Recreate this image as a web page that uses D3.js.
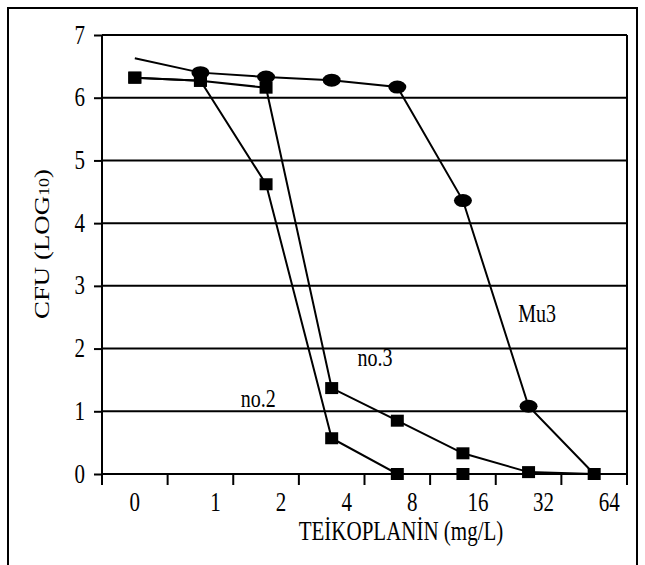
<!DOCTYPE html>
<html><head><meta charset="utf-8">
<script src="https://cdn.jsdelivr.net/npm/d3@7"></script>
<style>
body{margin:0;background:#fff}
svg{display:block}
text{font-family:"Liberation Serif","Times New Roman",serif;fill:#000}
</style>
</head><body>
<svg id="c" width="645" height="565"></svg>
<script>
// ---- data ----
const categories = ["0","1","2","4","8","16","32","64"];
const yTicks = [0,1,2,3,4,5,6,7];
const no2 = [6.32, 6.27, 4.62, 0.57, 0, 0, null, null];
const no3 = [6.32, 6.27, 6.16, 1.37, 0.85, 0.33, 0.03, 0];
const mu3 = [6.63, 6.40, 6.33, 6.28, 6.17, 4.36, 1.08, 0];
const annotations = [
  {text:"Mu3", idx:6.63, value:2.57},
  {text:"no.3", idx:4.16, value:1.87},
  {text:"no.2", idx:2.38, value:1.21}
];

// ---- layout ----
const svg = d3.select("#c");
const L = 102, R = 627, T = 35, B = 474;
const SY = 1.28; // vertical stretch of the lettering
const x = d3.scaleBand().domain(categories).range([L, R]);
const xi = d3.scaleLinear().domain([0, categories.length]).range([L, R]);
const y = d3.scaleLinear().domain([0, 7]).range([B, T]);
const cx = i => x(categories[i]) + x.bandwidth()/2;

// outer frame
svg.append("path").attr("d", "M8,565 L8,8 L637,8 L637,565")
  .attr("fill","none").attr("stroke","#000").attr("stroke-width",2);

// gridlines
svg.append("g").selectAll("line").data(yTicks.filter(v=>v>0)).join("line")
  .attr("x1", L).attr("x2", R).attr("y1", d=>y(d)).attr("y2", d=>y(d))
  .attr("stroke","#000").attr("stroke-width",2);
// right border of plot
svg.append("line").attr("x1",R).attr("x2",R).attr("y1",T).attr("y2",B)
  .attr("stroke","#000").attr("stroke-width",2);

// y axis
const ya = svg.append("g").attr("transform",`translate(${L},0)`)
  .call(d3.axisLeft(y).tickValues(yTicks).tickFormat(d3.format("d")).tickSize(8).tickPadding(9).tickSizeOuter(0));
ya.select(".domain").attr("stroke-width",2).attr("d", `M0,${T}V${B+4}`);
ya.selectAll(".tick line").attr("stroke-width",2);
ya.selectAll("text").attr("font-size",21).attr("font-family","Liberation Serif")
  .attr("transform",`scale(1,${SY})`).attr("dy","0.3em");

// x axis
const xa = svg.append("g").attr("transform",`translate(0,${B})`)
  .call(d3.axisBottom(x).tickSize(0));
xa.select(".domain").attr("stroke-width",2).attr("d", `M${L},0H${R}`);
xa.selectAll("text").attr("font-size",21).attr("font-family","Liberation Serif")
  .attr("dy", 0).attr("y", 37/SY).attr("transform",`scale(1,${SY})`)
  .attr("dx", (d,i)=> i>0 ? 15 : 0);
xa.selectAll(".tickb").data(d3.range(categories.length+1)).join("line")
  .attr("x1", d=>xi(d)).attr("x2", d=>xi(d)).attr("y1", 0).attr("y2", 11)
  .attr("stroke","#000").attr("stroke-width",2);

// axis titles
svg.append("g").attr("transform",`translate(401,540) scale(1,${SY})`)
  .append("text").attr("text-anchor","middle").attr("font-size",21).text("TEİKOPLANİN (mg/L)");
const yt = svg.append("text").attr("transform","translate(49,244) rotate(-90) scale(1.28,1)")
  .attr("text-anchor","middle").attr("font-size",21);
yt.append("tspan").text("CFU (LOG");
yt.append("tspan").attr("font-size",14).text("10");
yt.append("tspan").text(")");

// lines
const line = d3.line().defined(d=>d!=null).x((d,i)=>cx(i)).y(d=>y(d));
const g = svg.append("g");
[no2, no3, mu3].forEach(s=>{
  g.append("path").datum(s).attr("d", line)
   .attr("fill","none").attr("stroke","#000").attr("stroke-width",2);
});

// circles (Mu3 inner points)
g.selectAll(".circ").data(mu3.map((v,i)=>({v,i})).slice(1,-1)).join("ellipse")
  .attr("cx", d=>cx(d.i)).attr("cy", d=>y(d.v)).attr("rx",9).attr("ry",6.5).attr("fill","#000");

// squares
const sq = [...no2.map((v,i)=>({v,i})), ...no3.map((v,i)=>({v,i}))].filter(d=>d.v!=null);
g.selectAll(".sq").data(sq).join("rect")
  .attr("x", d=>cx(d.i)-6.5).attr("y", d=>y(d.v)-6).attr("width",13).attr("height",12).attr("fill","#000");

// annotations
svg.append("g").selectAll("g").data(annotations).join("g")
  .attr("transform", d=>`translate(${xi(d.idx)},${y(d.value)}) scale(1,${SY})`)
  .append("text").attr("dy","0.35em").attr("text-anchor","middle").attr("font-size",20).text(d=>d.text);
</script>
</body></html>
